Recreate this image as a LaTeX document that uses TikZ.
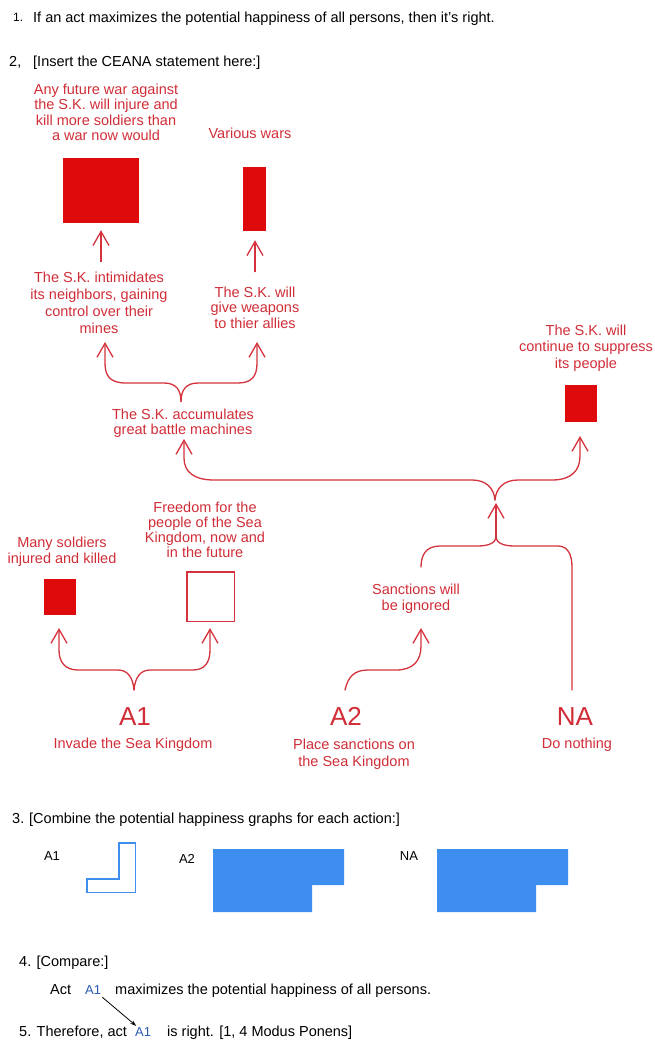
\documentclass[tikz,border=0pt]{standalone}
\usepackage{fontspec}
\setmainfont{Liberation Sans}
\usetikzlibrary{arrows.meta,calc}
\definecolor{redT}{RGB}{208,45,55}
\definecolor{redL}{RGB}{212,50,60}
\definecolor{redF}{RGB}{222,10,12}
\definecolor{blueF}{RGB}{62,142,240}
\definecolor{blueT}{RGB}{40,90,175}
\begin{document}
\begin{tikzpicture}[x=1pt,y=-1pt,
 blk/.style={anchor=base west, inner sep=0pt, font=\fontsize{14.5}{17}\selectfont, text=black},
 rtxt/.style={anchor=north, inner sep=0pt, align=center, text=redT, font=\fontsize{14.5}{#1}\selectfont},
 rtxt/.default=16.3,
 bigl/.style={anchor=base, inner sep=0pt, text=redT, font=\fontsize{26}{30}\selectfont},
 smallblk/.style={anchor=base, inner sep=0pt, font=\fontsize{13}{15}\selectfont},
 redbox/.style={fill=redF, draw=none, inner sep=0pt},
 rline/.style={draw=redL, line width=1.3pt, line cap=round, line join=round},
 rarr/.style={rline, -{Straight Barb[length=14pt, width=16pt]}},
 graph/.style={fill=blueF, draw=none},
]
\useasboundingbox (0,0) rectangle (654,1059);
% ---- statements 1 and 2
\node[anchor=base west, inner sep=0pt, font=\fontsize{12}{14}\selectfont] (n1) at (13,21.5) {1.};
\node[blk] (s1) at (33,23) {If an act maximizes the potential happiness of all persons, then it's right.};
\node[blk] (n2) at (9,67) {2,};
\node[blk] (s2) at (33,67) {[Insert the CEANA statement here:]};
% ---- CEANA diagram: texts and boxes
\node[rtxt=15.4] (fut) at (106,83.6) {Any future war against\\the S.K. will injure and\\kill more soldiers than\\a war now would};
\node[rtxt] (var) at (250,127.6) {Various wars};
\node[redbox, minimum width=76pt, minimum height=65pt] (bigbox) at (101,190.5) {};
\node[redbox, minimum width=23pt, minimum height=64pt] (narrowbox) at (254.5,199) {};
\node[rtxt=17] (intim) at (99,271.6) {The S.K. intimidates\\its neighbors, gaining\\control over their\\mines};
\node[rtxt=15.5] (weap) at (255,286.6) {The S.K. will\\give weapons\\to thier allies};
\node[rtxt=15.5] (accum) at (183,408.6) {The S.K. accumulates\\great battle machines};
\node[rtxt=16.5] (sup) at (586,324.6) {The S.K. will\\continue to suppress\\its people};
\node[redbox, minimum width=32pt, minimum height=37pt] (supbox) at (581,403.5) {};
\node[rtxt=16] (sold) at (62,536.6) {Many soldiers\\injured and killed};
\node[redbox, minimum width=32pt, minimum height=36pt] (soldbox) at (60,597) {};
\node[rtxt=15] (free) at (205,501.6) {Freedom for the\\people of the Sea\\Kingdom, now and\\in the future};
\node[draw=redL, line width=1.5pt, fill=white, inner sep=0pt, minimum width=47.5pt, minimum height=49.5pt] (freebox) at (210.5,596.5) {};
\node[rtxt=16] (sanc) at (416,583.6) {Sanctions will\\be ignored};
\node[bigl] (A1) at (135,725) {A1};
\node[bigl] (A2) at (346,725) {A2};
\node[bigl] (NA) at (575,725) {NA};
\node[rtxt] (inv) at (133,737.6) {Invade the Sea Kingdom};
\node[rtxt=17] (place) at (354,738.6) {Place sanctions on\\the Sea Kingdom};
\node[rtxt] (nothing) at (577,737.6) {Do nothing};
% ---- simple arrows to boxes
\draw[rarr, shorten <=10pt, shorten >=7pt] (bigbox.south |- intim.north) -- (bigbox.south);
\draw[rarr, shorten <=15pt, shorten >=9pt] (weap.north) -- (weap.north |- narrowbox.south);
% ---- brace above "accumulates"
\coordinate (bA) at ($(accum.north)+(-2,-7)$);
\coordinate (tA1) at (105,342);
\coordinate (tA2) at (257,342);
\draw[rarr] (bA) .. controls (181,390) and (176,383) .. (164,383) -- (126,383) .. controls (110,383) and (105,376) .. (105,363) -- (tA1);
\draw[rarr] (bA) .. controls (181,390) and (186,383) .. (198,383) -- (238,383) .. controls (252,383) and (257,376) .. (257,363) -- (tA2);
% ---- long brace to "accumulates" and suppress box
\coordinate (bB) at (495,500);
\coordinate (tB1) at (184,439);
\coordinate (tB2) at (580,436);
\draw[rarr] (bB) .. controls (494,488) and (486,480) .. (472,480) -- (214,480) .. controls (194,480) and (184,472) .. (184,458) -- (tB1);
\draw[rarr] (bB) .. controls (496,488) and (504,480) .. (518,480) -- (552,480) .. controls (572,480) and (580,470) .. (580,456) -- (tB2);
\coordinate (bC) at (496,537);
\coordinate (tC) at (496,503);
\draw[rarr] (bC) -- (tC);
% ---- brace joining sanctions and do nothing
\coordinate (cL) at (421,567);
\coordinate (cR) at (572,690);
\draw[rline] (bC) .. controls (496,542) and (490,546) .. (478,546) -- (440,546) .. controls (426,546) and (421,555) .. (cL);
\draw[rline] (bC) .. controls (496,542) and (502,546) .. (514,546) -- (558,546) .. controls (568,546) and (572,555) .. (572,567) -- (cR);
% ---- A2 half brace
\coordinate (a2s) at (345,690);
\coordinate (a2t) at (421,628);
\draw[rarr] (a2s) .. controls (348,677) and (354,670) .. (368,670) -- (396,670) .. controls (413,670) and (421,661) .. (421,646) -- (a2t);
% ---- A1 brace
\coordinate (bD) at (134,690);
\coordinate (tD1) at (59,628);
\coordinate (tD2) at (210,628);
\draw[rarr] (bD) .. controls (133,678) and (128,670) .. (118,670) -- (78,670) .. controls (65,670) and (59,662) .. (59,650) -- (tD1);
\draw[rarr] (bD) .. controls (135,678) and (140,670) .. (150,670) -- (193,670) .. controls (205,670) and (210,662) .. (210,650) -- (tD2);
% ---- statement 3
\node[blk] (n3) at (12,823) {3.};
\node[blk] (s3) at (29,823) {[Combine the potential happiness graphs for each action:]};
\node[smallblk] (g1) at (52,860) {A1};
\draw[draw=blueF, line width=1.5pt] (118.75,842.75) -- (135.25,842.75) -- (135.25,892.25) -- (86.75,892.25) -- (86.75,878.75) -- (118.75,878.75) -- cycle;
\node[smallblk] (g2) at (187,863) {A2};
\fill[graph] (213,849) -- (344,849) -- (344,885) -- (312,885) -- (312,912) -- (213,912) -- cycle;
\node[smallblk] (g3) at (409,860) {NA};
\fill[graph] (437,849) -- (568,849) -- (568,885) -- (536,885) -- (536,912) -- (437,912) -- cycle;
% ---- statements 4 and 5
\node[blk] (n4) at (19,966) {4. [Compare:]};
\node[blk] (act) at (50,994) {Act};
\node[blk, text=blueT, font=\fontsize{13}{15}\selectfont] (a1a) at (85,994) {A1};
\node[blk] (maxi) at (115,994) {maximizes the potential happiness of all persons.};
\node[blk] (n5) at (19,1036) {5. Therefore, act};
\node[blk, text=blueT, font=\fontsize{13}{15}\selectfont] (a1b) at (135,1036) {A1};
\node[blk] (rgt) at (167,1036) {is right. [1, 4 Modus Ponens]};
\draw[line width=0.8pt, -{Stealth[length=6pt,width=4pt]}] ($(a1a.south east)+(1,3)$) -- ($(a1b.north)+(-7,-1)$);
\end{tikzpicture}
\end{document}
